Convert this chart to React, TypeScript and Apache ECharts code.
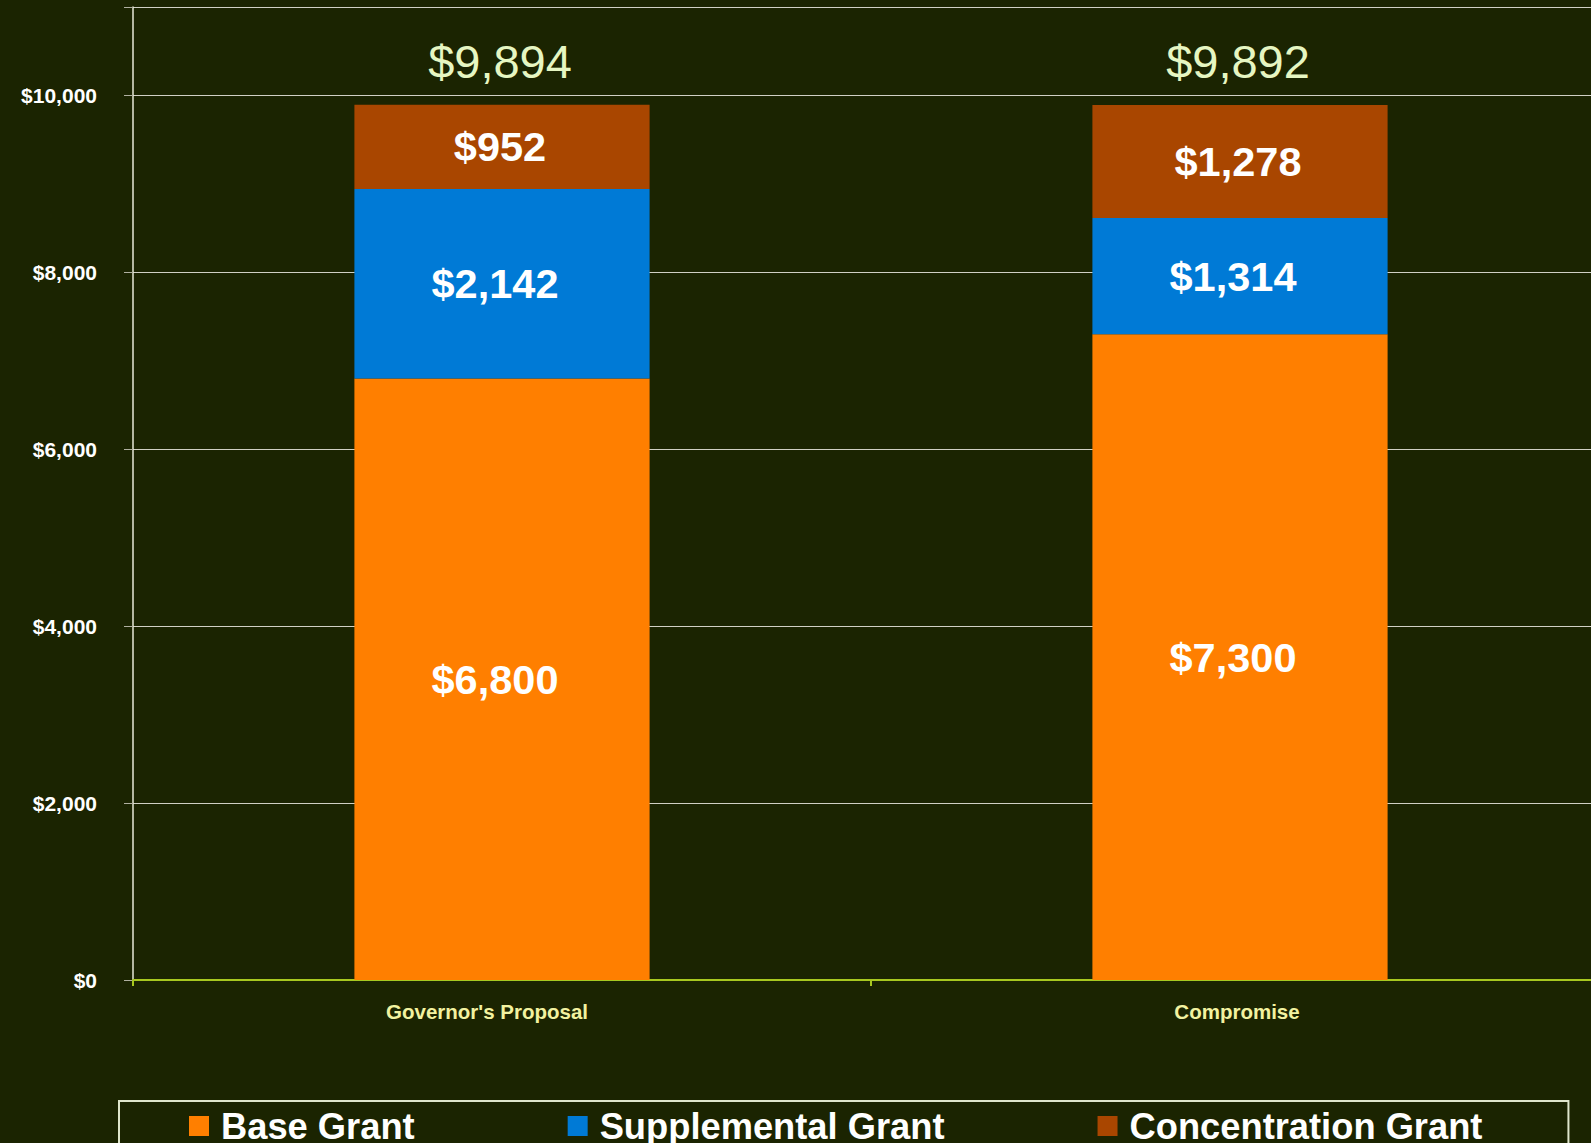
import React, { useEffect, useRef } from "react";
import * as echarts from "echarts";

const categories = ["Governor's Proposal", "Compromise"];
const baseGrant = [6800, 7300];
const supplementalGrant = [2142, 1314];
const concentrationGrant = [952, 1278];
const seriesNames = ["Base Grant", "Supplemental Grant", "Concentration Grant"];
const yTicks = [0, 2000, 4000, 6000, 8000, 10000];

const FONT = '"Liberation Sans", Arial, sans-serif';
const fmt = (v: number) => "$" + v.toLocaleString("en-US");

export default function App() {
  const ref = useRef<HTMLDivElement>(null);
  useEffect(() => {
    document.body.style.margin = "0";
    if (!ref.current) return;
    const chart = echarts.init(ref.current, null, { renderer: "svg" });
    const totals = categories.map(
      (_, i) => baseGrant[i] + supplementalGrant[i] + concentrationGrant[i]
    );
    const segLabel = (dx: number) => ({
      show: true,
      position: "inside",
      color: "#ffffff",
      fontSize: 41.5,
      fontWeight: "bold",
      fontFamily: FONT,
      offset: [dx, 0],
      formatter: (p: any) => fmt(p.value),
    });
    const labelPads = [[0, 30, 0, 0], [0, 6, 0, 0]];
    chart.setOption({
      animation: false,
      backgroundColor: "#1b2401",
      grid: {
        left: 133,
        top: 7,
        bottom: 163,
        right: -18,
        containLabel: false,
        outerBoundsMode: "none",
      },
      xAxis: {
        type: "category",
        data: categories.map((c, i) => ({
          value: c,
          textStyle: { padding: labelPads[i] },
        })),
        axisLine: { show: true, lineStyle: { color: "#a8c820", width: 2 } },
        axisTick: { show: true, length: 6, lineStyle: { color: "#a8c820", width: 2 } },
        axisLabel: {
          color: "#f2f2a0",
          fontSize: 20.5,
          fontWeight: "bold",
          fontFamily: FONT,
          margin: 21,
        },
        splitLine: { show: false },
      },
      yAxis: {
        type: "value",
        min: 0,
        max: 11000,
        interval: 2000,
        axisLine: { show: true, lineStyle: { color: "#e8e8d8", width: 1.5 } },
        axisTick: { show: true, length: 9, lineStyle: { color: "#b0b0a0" } },
        axisLabel: {
          color: "#ffffff",
          fontSize: 21,
          fontWeight: "bold",
          fontFamily: FONT,
          margin: 36,
          formatter: (v: number) => (yTicks.includes(v) ? fmt(v) : ""),
        },
        splitLine: { show: true, lineStyle: { color: "#d0d0c4", width: 1.2 } },
      },
      legend: {
        data: seriesNames,
        left: 119,
        top: 1101,
        orient: "horizontal",
        padding: [7, 86, 20, 70],
        itemGap: 153,
        itemWidth: 20,
        itemHeight: 20,
        icon: "rect",
        borderColor: "#dfe6cc",
        borderWidth: 2,
        textStyle: {
          color: "#ffffff",
          fontSize: 36.3,
          fontWeight: "bold",
          fontFamily: FONT,
          padding: [0, 0, 0, 7],
        },
      },
      series: [
        {
          name: seriesNames[0],
          type: "bar",
          stack: "total",
          barWidth: "40%",
          data: baseGrant,
          itemStyle: { color: "#ff7f00" },
          label: segLabel(-7),
        },
        {
          name: seriesNames[1],
          type: "bar",
          stack: "total",
          data: supplementalGrant,
          itemStyle: { color: "#007ad6" },
          label: segLabel(-7),
        },
        {
          name: seriesNames[2],
          type: "bar",
          stack: "total",
          data: concentrationGrant,
          itemStyle: { color: "#a94600" },
          label: segLabel(-2),
        },
        {
          name: "Total",
          type: "scatter",
          data: totals,
          symbolSize: 0,
          silent: true,
          itemStyle: { opacity: 1 },
          label: {
            show: true,
            position: "top",
            distance: 20,
            color: "#e6f6c2",
            fontSize: 47,
            fontFamily: FONT,
            offset: [-2, 0],
            formatter: (p: any) => fmt(p.value),
          },
        },
      ],
    });
    return () => chart.dispose();
  }, []);
  return <div ref={ref} style={{ width: 1591, height: 1143 }} />;
}
